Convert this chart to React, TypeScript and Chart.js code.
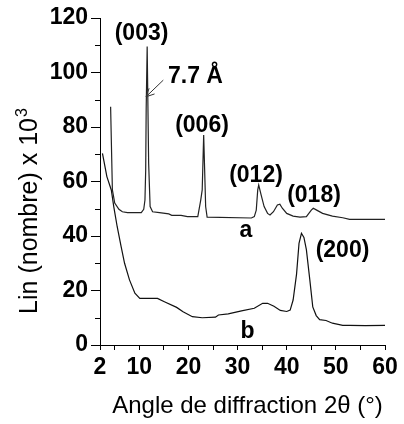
import React, { useEffect, useRef } from "react";
import { Chart, registerables } from "chart.js";

Chart.register(...registerables);

// Curve a (upper pattern)
const xA = [4.16, 4.52, 5.0, 5.85, 6.55, 7.6, 10.4, 10.9, 11.15, 11.3, 11.4, 11.6, 11.9, 12.2, 12.7, 14.1, 16.0, 16.6, 18.5, 19.8, 21.9, 22.5, 22.8, 23.1, 23.5, 23.8, 32.8, 33.4, 33.8, 34.1, 34.3, 34.8, 35.4, 36.1, 36.6, 37.3, 38.1, 38.6, 39.1, 40.0, 41.3, 42.7, 44.0, 45.0, 45.4, 46.1, 47.3, 49.3, 51.4, 52.8, 60];
const yA = [87.4, 56.9, 52.1, 49.8, 48.9, 48.6, 48.6, 49.8, 53.2, 64.2, 86.9, 109.5, 66.7, 50.8, 48.9, 48.6, 48.1, 47.6, 47.6, 47.1, 47.1, 53.2, 56.9, 77.1, 50.8, 46.9, 46.6, 47.1, 49.5, 56.9, 58.7, 55.0, 50.8, 48.3, 47.7, 48.9, 51.4, 51.7, 50.2, 48.3, 47.3, 46.9, 47.1, 49.5, 50.2, 49.5, 48.3, 47.3, 46.7, 46.1, 46.1];

// Curve b (lower pattern)
const xB = [2.5, 3.4, 4.3, 4.8, 5.5, 6.3, 7.0, 8.0, 9.1, 10.1, 13.7, 15.1, 17.6, 18.9, 20.8, 22.8, 25.5, 26.1, 28.1, 30.8, 33.4, 35.1, 36.1, 37.4, 38.7, 40.0, 40.7, 41.3, 42.0, 42.5, 43.0, 43.5, 44.0, 44.7, 45.3, 46.0, 46.7, 48.0, 49.3, 51.4, 52.8, 56.0, 60];
const yB = [70.3, 61.8, 56.9, 50.8, 43.4, 36.1, 30.0, 23.9, 19.0, 17.1, 17.1, 15.9, 13.8, 12.2, 10.4, 10.0, 10.2, 11.0, 11.4, 12.5, 13.5, 15.3, 15.3, 14.2, 12.7, 12.3, 12.8, 16.5, 26.0, 37.3, 41.0, 39.5, 35.0, 23.9, 14.0, 10.8, 9.3, 9.0, 8.0, 7.2, 7.2, 7.1, 7.2];

// Axis ticks
const xTickValues = [2, 5, 10, 15, 20, 25, 30, 35, 40, 45, 50, 55, 60];
const xTickLabels = [2, 10, 20, 30, 40, 50, 60];
const yTickValues = [0, 20, 40, 60, 80, 100, 120];
const yMinorTicks = [10, 30, 50, 70, 90, 110];

const xTitle = "Angle de diffraction 2θ (°)";
const yTitleMain = "Lin (nombre) x 10";
const yTitleSup = "3";

// Annotation labels (data coordinates, alphabetic baseline)
const labelTexts = ["(003)", "7.7 Å", "(006)", "(012)", "(018)", "a", "(200)", "b"];
const labelX = [10.45, 15.84, 22.76, 33.75, 45.55, 31.71, 51.35, 32.02];
const labelY = [111.9, 96.2, 78.3, 59.9, 52.6, 39.7, 32.4, 2.5];
const labelAlign = ["center", "left", "center", "center", "center", "center", "center", "center"];

// Arrow pointing to the (003) reflection
const arrowFrom = [14.88, 97.2];
const arrowTo = [11.36, 91.1];

const FONT = "'Liberation Sans', Arial, Helvetica, sans-serif";

const overlayPlugin = {
  id: "overlay",
  afterDraw(chart: any) {
    const ctx = chart.ctx;
    const xs = chart.scales.x;
    const ys = chart.scales.y;
    const area = chart.chartArea;
    ctx.save();
    // minor y ticks
    ctx.strokeStyle = "#000";
    ctx.lineWidth = 1;
    for (const v of yMinorTicks) {
      const py = Math.round(ys.getPixelForValue(v)) + 0.5;
      ctx.beginPath();
      ctx.moveTo(area.left - 5, py);
      ctx.lineTo(area.left, py);
      ctx.stroke();
    }
    // annotations
    ctx.fillStyle = "#000";
    ctx.font = `bold 23px ${FONT}`;
    ctx.textBaseline = "alphabetic";
    labelTexts.forEach((t, i) => {
      ctx.textAlign = labelAlign[i] as CanvasTextAlign;
      ctx.fillText(t, xs.getPixelForValue(labelX[i]), ys.getPixelForValue(labelY[i]));
    });
    // arrow
    const x1 = xs.getPixelForValue(arrowFrom[0]);
    const y1 = ys.getPixelForValue(arrowFrom[1]);
    const x2 = xs.getPixelForValue(arrowTo[0]);
    const y2 = ys.getPixelForValue(arrowTo[1]);
    ctx.strokeStyle = "#333";
    ctx.lineWidth = 1;
    ctx.beginPath();
    ctx.moveTo(x1, y1);
    ctx.lineTo(x2, y2);
    const ang = Math.atan2(y1 - y2, x1 - x2);
    const L = 9;
    const w = 0.45;
    ctx.moveTo(x2 + L * Math.cos(ang + w), y2 + L * Math.sin(ang + w));
    ctx.lineTo(x2, y2);
    ctx.lineTo(x2 + L * Math.cos(ang - w), y2 + L * Math.sin(ang - w));
    ctx.stroke();
    // x title
    ctx.fillStyle = "#000";
    ctx.font = `24px ${FONT}`;
    ctx.textAlign = "center";
    ctx.fillText(xTitle, (area.left + area.right) / 2 + 5, 413);
    // y title
    ctx.translate(37, 211.5);
    ctx.rotate(-Math.PI / 2);
    ctx.font = `25px ${FONT}`;
    const wMain = ctx.measureText(yTitleMain).width;
    ctx.font = `16px ${FONT}`;
    const wSup = ctx.measureText(yTitleSup).width;
    const start = -(wMain + wSup) / 2;
    ctx.textAlign = "left";
    ctx.font = `25px ${FONT}`;
    ctx.fillText(yTitleMain, start, 0);
    ctx.font = `16px ${FONT}`;
    ctx.fillText(yTitleSup, start + wMain + 1, -10);
    ctx.restore();
  },
};

export default function App() {
  const ref = useRef<HTMLCanvasElement | null>(null);
  useEffect(() => {
    if (!ref.current) return;
    const chart = new Chart(ref.current, {
      type: "line",
      data: {
        datasets: [
          {
            label: "a",
            data: xA.map((x, i) => ({ x, y: yA[i] })),
            borderColor: "#222",
            borderWidth: 1.2,
            pointRadius: 0,
            tension: 0,
            fill: false,
          },
          {
            label: "b",
            data: xB.map((x, i) => ({ x, y: yB[i] })),
            borderColor: "#111",
            borderWidth: 1.2,
            pointRadius: 0,
            tension: 0,
            fill: false,
          },
        ],
      },
      options: {
        animation: false,
        responsive: false,
        devicePixelRatio: 1,
        layout: { padding: { top: 18, right: 19, left: 0, bottom: 0 } },
        plugins: { legend: { display: false }, tooltip: { enabled: false } },
        scales: {
          x: {
            type: "linear",
            min: 2,
            max: 60,
            afterBuildTicks: (s: any) => {
              s.ticks = xTickValues.map((v) => ({ value: v }));
            },
            afterFit: (s: any) => {
              s.height = 79;
            },
            ticks: {
              autoSkip: false,
              maxRotation: 0,
              minRotation: 0,
              padding: 4,
              color: "#000",
              font: { family: FONT, size: 23, weight: "bold" },
              callback: (v: any) => (xTickLabels.includes(v) ? String(v) : ""),
            },
            grid: { display: true, drawOnChartArea: false, drawTicks: true, tickLength: 5, tickColor: "#000", tickWidth: 1 },
            border: { display: true, color: "#000", width: 1 },
          },
          y: {
            type: "linear",
            min: 0,
            max: 120,
            afterBuildTicks: (s: any) => {
              s.ticks = yTickValues.map((v) => ({ value: v }));
            },
            afterFit: (s: any) => {
              s.width = 100;
            },
            ticks: {
              padding: 3,
              color: "#000",
              font: { family: FONT, size: 23, weight: "bold" },
              callback: (v: any) => String(v),
            },
            grid: { display: true, drawOnChartArea: false, drawTicks: true, tickLength: 9, tickColor: "#000", tickWidth: 1 },
            border: { display: true, color: "#000", width: 1 },
          },
        },
      },
      plugins: [overlayPlugin],
    });
    return () => chart.destroy();
  }, []);
  return (
    <div style={{ position: "fixed", left: 0, top: 0, width: 404, height: 424, background: "#fff" }}>
      <canvas ref={ref} width={404} height={424} style={{ width: 404, height: 424, display: "block" }} />
    </div>
  );
}
